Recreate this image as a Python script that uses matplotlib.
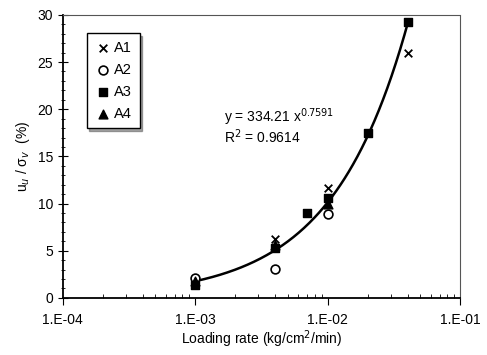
import numpy as np
import matplotlib.pyplot as plt
from matplotlib.ticker import FixedLocator, LogLocator, NullFormatter

plt.rcParams['font.family'] = ['Liberation Sans', 'DejaVu Sans']

# loading rate (kg/cm2/min) and excess pore pressure ratio (%)
a1_x = [1e-3, 4e-3, 1e-2, 4e-2]
a1_y = [1.5, 6.2, 11.7, 26.0]
a2_x = [1e-3, 4e-3, 1e-2]
a2_y = [2.1, 3.1, 8.9]
a3_x = [1e-3, 4e-3, 7e-3, 1e-2, 2e-2, 4e-2]
a3_y = [1.4, 5.3, 9.0, 10.6, 17.5, 29.2]
a4_x = [1e-3, 4e-3, 1e-2]
a4_y = [1.8, 5.6, 10.0]

# power fit shown on the chart
fit_a = 334.21
fit_b = 0.7591
fit_r2 = 0.9614

xticks = [1e-4, 1e-3, 1e-2, 1e-1]
xlabels = ['1.E-04', '1.E-03', '1.E-02', '1.E-01']

fig = plt.figure(figsize=(4.87, 3.55), dpi=100)
ax = fig.add_axes([0.129, 0.161, 0.816, 0.797])

xf = np.logspace(-3, np.log10(4e-2), 200)
ax.plot(xf, fit_a * xf ** fit_b, color='black', lw=1.8, zorder=2)

ax.scatter(a1_x, a1_y, marker='x', color='black', s=30, lw=1.3, label='A1', zorder=3)
ax.scatter(a2_x, a2_y, marker='o', facecolor='white', edgecolor='black', s=40, lw=1.2, label='A2', zorder=3)
ax.scatter(a3_x, a3_y, marker='s', color='black', s=30, label='A3', zorder=4)
ax.scatter(a4_x, a4_y, marker='^', color='black', s=40, label='A4', zorder=3)

ax.set_xscale('log')
ax.set_xlim(1e-4, 1e-1)
ax.set_ylim(0, 30)
ax.set_xticks(xticks)
ax.set_xticklabels(xlabels)
ax.xaxis.set_minor_locator(LogLocator(base=10, subs=np.arange(2, 10)))
ax.xaxis.set_minor_formatter(NullFormatter())
ax.set_yticks(range(0, 31, 5))
ax.yaxis.set_minor_locator(FixedLocator(range(0, 31)))

ax.tick_params(axis='x', which='major', direction='out', length=5, labelsize=10, pad=6)
ax.tick_params(axis='x', which='minor', direction='in', length=3)
ax.tick_params(axis='y', which='major', direction='inout', length=7, labelsize=10)
ax.tick_params(axis='y', which='minor', direction='inout', length=3)

for s in ['top', 'right']:
    ax.spines[s].set_linestyle((0, (2, 1)))
    ax.spines[s].set_color('#555555')
    ax.spines[s].set_linewidth(0.8)
for s in ['left', 'bottom']:
    ax.spines[s].set_linewidth(1.3)

ax.set_xlabel('Loading rate (kg/cm$^2$/min)', fontsize=10, labelpad=1)
ax.set_ylabel('u$_u$ / σ$_v$  (%)', fontsize=10)

ax.text(1.64e-3, 18.66, 'y = %.2f x$^{%.4f}$' % (fit_a, fit_b), fontsize=10, va='baseline')
ax.text(1.64e-3, 16.4, 'R$^2$ = %.4f' % fit_r2, fontsize=10, va='baseline')

leg = ax.legend(loc='upper left', bbox_to_anchor=(0.06, 0.935), frameon=True, fancybox=False,
                shadow=True, handletextpad=0.2, handlelength=1.2, borderpad=0.5,
                labelspacing=0.55, fontsize=10.5, borderaxespad=0, markerscale=1.0)
leg.get_frame().set_edgecolor('black')
leg.get_frame().set_linewidth(1.0)

fig.savefig('out.png', dpi=100)
